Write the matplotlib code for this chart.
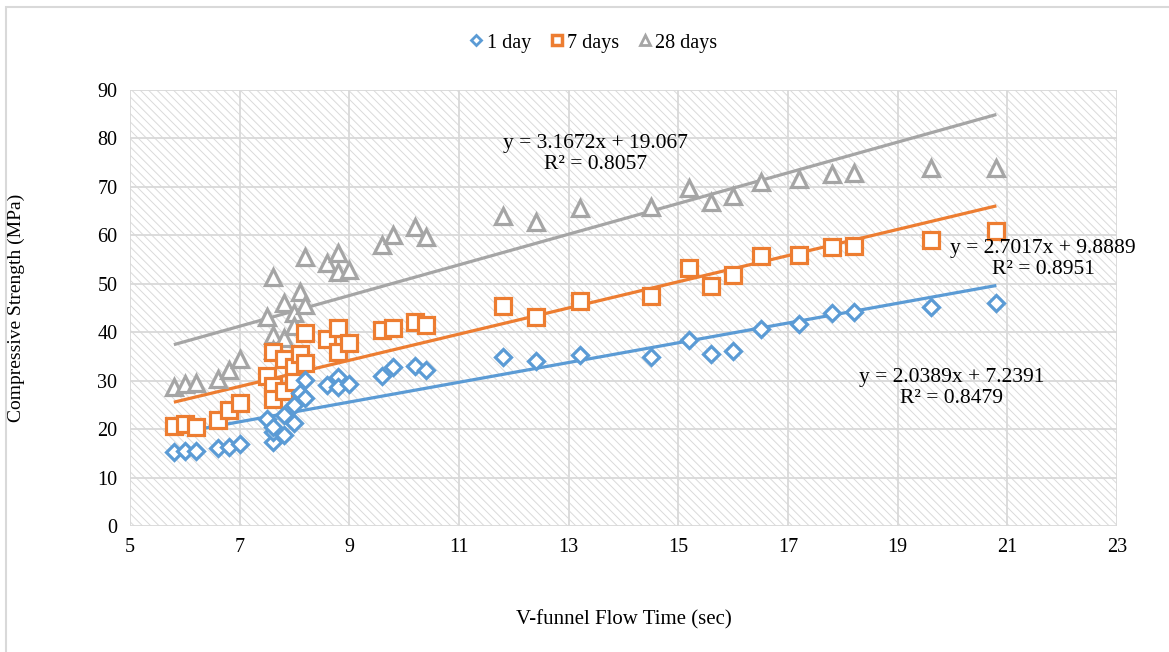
import numpy as np
import matplotlib
matplotlib.use("Agg")
import matplotlib.pyplot as plt
from matplotlib.patches import Rectangle
from matplotlib.lines import Line2D

plt.rcParams['font.family'] = ['Liberation Serif', 'DejaVu Serif']
plt.rcParams['hatch.linewidth'] = 0.7

# V-funnel flow time (sec), shared by the three ages
flow_time = [5.8, 6.0, 6.2, 6.6, 6.8, 7.0, 7.5, 7.6, 7.6, 7.6, 7.8, 7.8, 8.0, 8.0,
             8.1, 8.2, 8.2, 8.6, 8.8, 8.8, 9.0, 9.6, 9.8, 10.2, 10.4, 11.8, 12.4,
             13.2, 14.5, 15.2, 15.6, 16.0, 16.5, 17.2, 17.8, 18.2, 19.6, 20.8]

# compressive strength (MPa)
day1 = [15.3, 15.5, 15.5, 16.0, 16.4, 16.9, 22.0, 17.3, 19.5, 20.5, 18.8, 23.0, 21.2, 25.0,
        27.5, 26.5, 30.2, 29.1, 30.8, 28.6, 29.4, 31.0, 32.8, 33.0, 32.1, 34.8, 34.1,
        35.2, 34.8, 38.4, 35.5, 36.1, 40.7, 41.7, 44.0, 44.2, 45.3, 46.1]
day7 = [20.6, 21.0, 20.5, 21.9, 23.9, 25.3, 31.0, 35.9, 28.8, 26.2, 27.8, 34.5, 32.8, 29.8,
        35.5, 39.8, 33.6, 38.5, 40.9, 35.9, 37.7, 40.5, 40.8, 42.1, 41.5, 45.4, 43.2,
        46.4, 47.4, 53.3, 49.5, 51.8, 55.7, 56.0, 57.5, 57.9, 59.0, 60.8]
day28 = [28.6, 29.4, 29.6, 30.3, 32.2, 34.5, 43.2, 51.3, 39.4, 36.3, 46.0, 38.8, 44.0, 41.3,
         48.2, 45.6, 55.6, 54.2, 56.3, 52.5, 52.8, 58.0, 60.1, 61.8, 59.6, 64.0, 62.8,
         65.6, 65.9, 69.7, 66.9, 68.1, 71.1, 71.7, 72.7, 72.9, 73.8, 74.0]

# trendline coefficients shown on the chart (slope, intercept, R2)
fit1 = (2.0389, 7.2391, 0.8479)
fit7 = (2.7017, 9.8889, 0.8951)
fit28 = (3.1672, 19.067, 0.8057)

blue = '#5B9BD5'
orange = '#ED7D31'
gray = '#A5A5A5'

fig = plt.figure(figsize=(11.69, 6.52), dpi=100)
ax = fig.add_axes([130/1169, 1-526/652, 987/1169, 436/652])

# chart border
fig.patches.append(Rectangle((6/1169, -0.05), 1.1, 1-7/652+0.05, transform=fig.transFigure,
                             fill=False, edgecolor='#D9D9D9', linewidth=1.5))

# hatched plot area
ax.add_patch(Rectangle((0, 0), 1, 1, transform=ax.transAxes, facecolor='white',
                       edgecolor='#DADADA', hatch='\\\\\\\\', linewidth=0, zorder=0))

xs = np.array([min(flow_time), max(flow_time)])
for (m, b, r2), c in [(fit28, gray), (fit7, orange), (fit1, blue)]:
    ax.plot(xs, m*xs + b, color=c, linewidth=2.3, zorder=3, solid_capstyle='butt')

ax.plot(flow_time, day28, linestyle='none', marker='^', ms=11, mfc='white', mec=gray, mew=2.3, zorder=4)
ax.plot(flow_time, day7, linestyle='none', marker='s', ms=11, mfc='white', mec=orange, mew=2.3, zorder=4)
ax.plot(flow_time, day1, linestyle='none', marker='D', ms=8, mfc='white', mec=blue, mew=2.3, zorder=4)

ax.text(13.49, 76.8, 'y = %.4fx + %.3f\nR² = %.4f' % fit28, ha='center', va='center',
        fontsize=15.5, linespacing=1.15, zorder=5)
ax.text(21.65, 55.1, 'y = %.4fx + %.4f\nR² = %.4f' % fit7, ha='center', va='center',
        fontsize=15.5, linespacing=1.15, zorder=5)
ax.text(19.99, 28.4, 'y = %.4fx + %.4f\nR² = %.4f' % fit1, ha='center', va='center',
        fontsize=15.5, linespacing=1.15, zorder=5)

ax.set_xlim(5, 23)
ax.set_ylim(0, 90)
ax.set_xticks(np.arange(5, 24, 2))
ax.set_yticks(np.arange(0, 91, 10))
ax.grid(True, color='#D9D9D9', linewidth=1.3, zorder=1)
ax.set_axisbelow(True)
for s in ax.spines.values():
    s.set_visible(False)
ax.tick_params(length=0, labelsize=14.5, pad=9)

ax.set_xlabel('V-funnel Flow Time (sec)', fontsize=15)
ax.xaxis.set_label_coords(0.5, -84/436)
ax.set_ylabel('Compressive Strength (MPa)', fontsize=14)
ax.yaxis.set_label_coords(-(130-25)/987, 0.5)

handles = [
    Line2D([], [], linestyle='none', marker='D', ms=5, mfc='white', mec=blue, mew=2),
    Line2D([], [], linestyle='none', marker='s', ms=7, mfc='white', mec=orange, mew=2.5),
    Line2D([], [], linestyle='none', marker='^', ms=7, mfc='white', mec=gray, mew=2),
]
fig.legend(handles, ['1 day', '7 days', '28 days'], loc='center', bbox_to_anchor=(594/1169, 1-43/652),
           ncol=3, frameon=False, fontsize=14.5, handlelength=0.6, handletextpad=0.2, columnspacing=1.0)

fig.savefig('out.png', dpi=100)
